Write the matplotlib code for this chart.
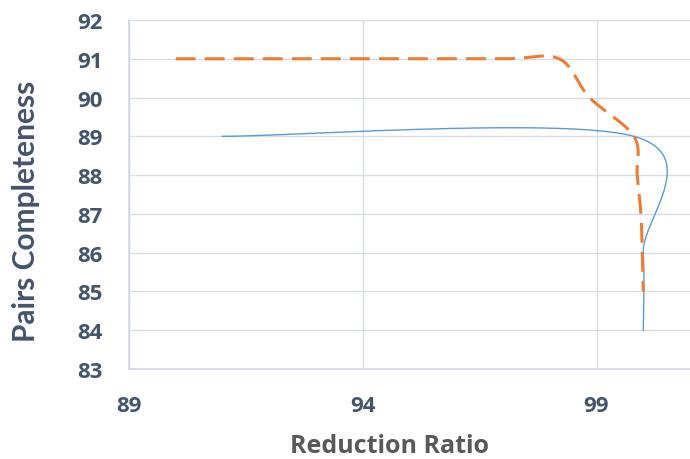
import numpy as np
import matplotlib
matplotlib.use("Agg")
import matplotlib.pyplot as plt

# Data (control points)
blue_x = [91.0, 99.8, 100.0, 100.0]
blue_y = [89.0, 89.0, 86.0, 84.0]
orange_x = [90.0, 94.0, 97.0, 98.2, 98.85, 99.8, 99.87, 99.95, 99.98, 100.0]
orange_y = [91.0, 91.0, 91.0, 91.0, 90.0, 89.0, 88.0, 87.0, 86.0, 85.0]

x_ticks = [89, 94, 99]
y_ticks = [83, 84, 85, 86, 87, 88, 89, 90, 91, 92]


def excel_smooth(xs, ys, n=60, t=1/6):
    P = np.column_stack([xs, ys]).astype(float)
    m = len(P)
    out = []
    for i in range(m - 1):
        p0 = P[i]
        p3 = P[i + 1]
        pm = P[i - 1] if i > 0 else P[i]
        pp = P[i + 2] if i + 2 < m else P[i + 1]
        c1 = p0 + (p3 - pm) * t
        c2 = p3 - (pp - p0) * t
        s = np.linspace(0, 1, n)[:, None]
        seg = ((1 - s) ** 3) * p0 + 3 * ((1 - s) ** 2) * s * c1 + 3 * (1 - s) * s ** 2 * c2 + s ** 3 * p3
        out.append(seg if i == 0 else seg[1:])
    c = np.vstack(out)
    return c[:, 0], c[:, 1]


txt = "#44546A"
plt.rcParams['font.family'] = ['Open Sans', 'DejaVu Sans']

W, H = 690, 460
fig = plt.figure(figsize=(6.9, 4.6), dpi=100)
ax_l, ax_r, ax_t, ax_b = 129, 690, 21, 370
ax = fig.add_axes([ax_l / W, 1 - ax_b / H, (ax_r - ax_l) / W, (ax_b - ax_t) / H])

bx, by = excel_smooth(blue_x, blue_y)
ox, oy = excel_smooth(orange_x, orange_y)
ax.plot(bx, by, color="#5B9BD5", lw=1.0, zorder=3)
ax.plot(ox, oy, color="#ED7D31", lw=2.2, dashes=(6.5, 3), zorder=3)

ax.set_xlim(89, 101)
ax.set_ylim(83, 92)
ax.set_xticks(x_ticks)
ax.set_yticks(y_ticks)
ax.grid(True, color="#D9DEE6", lw=1.0)
ax.set_axisbelow(True)
for s in ["top", "right"]:
    ax.spines[s].set_visible(False)
for s in ["left", "bottom"]:
    ax.spines[s].set_color("#D0D7E2")
    ax.spines[s].set_linewidth(1.2)
ax.tick_params(length=0, labelsize=16, labelcolor=txt, pad=19)
for lab in ax.get_xticklabels() + ax.get_yticklabels():
    lab.set_fontweight("bold")

ax.set_xlabel("Reduction Ratio", fontsize=18, fontweight="bold", color="#595959",
              va="center", ha="center")
ax.xaxis.set_label_coords((390 - ax_l) / (ax_r - ax_l), (ax_b - 447) / (ax_b - ax_t))
ax.set_ylabel("Pairs Completeness", fontsize=21.5, fontweight="bold", color=txt,
              family=["Lato", "DejaVu Sans"], va="center", ha="center")
ax.yaxis.set_label_coords((26 - ax_l) / (ax_r - ax_l), (ax_b - 211) / (ax_b - ax_t))

fig.savefig("out.png", dpi=100)
